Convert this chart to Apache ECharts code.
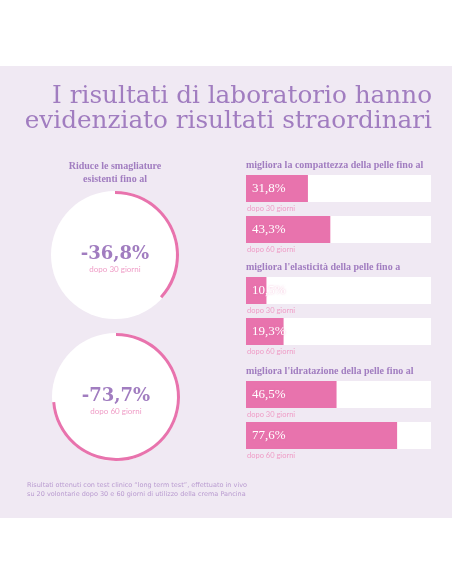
<!DOCTYPE html>
<html><head><meta charset="utf-8">
<script src="https://cdn.jsdelivr.net/npm/echarts@6/dist/echarts.min.js"></script>
<style>html,body{margin:0;padding:0;background:#fff}#c{width:452px;height:584px}</style>
</head><body><div id="c"></div>
<script>
const titleLines = ['I risultati di laboratorio hanno', 'evidenziato risultati straordinari'];
const circleHeader = ['Riduce le smagliature', 'esistenti fino al'];
const circleValues = [36.8, 73.7];
const circlePeriods = ['dopo 30 giorni', 'dopo 60 giorni'];
const sectionTitles = [
  'migliora la compattezza della pelle fino al',
  "migliora l'elasticità della pelle fino a",
  "migliora l'idratazione della pelle fino al"
];
const barValues = [[31.8, 43.3], [10.5, 19.3], [46.5, 77.6]];
const barPeriods = ['dopo 30 giorni', 'dopo 60 giorni'];
const footerLines = [
  'Risultati ottenuti con test clinico “long term test”, effettuato in vivo',
  'su 20 volontarie dopo 30 e 60 giorni di utilizzo della crema Pancina'
];

const PURPLE = '#a17dc0', PINK = '#e873ad', BAND = '#f0e9f3';
const SERIF = '"Liberation Serif", serif', SANS = 'Lato, "Noto Sans", sans-serif';
const WIDE_SERIF = '"DejaVu Serif", serif';
const fmt = v => (v.toFixed(1).replace('.', ',')) + '%';

const chart = echarts.init(document.getElementById('c'), null, {renderer: 'canvas'});

const graphic = [
  {type: 'rect', shape: {x: 0, y: 66, width: 452, height: 452}, style: {fill: BAND}, z: -10},
];
titleLines.forEach((t, i) => graphic.push({type: 'text', x: 432, y: 97 + i * 25,
  style: {text: t, fill: PURPLE, font: '24.7px ' + WIDE_SERIF, textAlign: 'right', textVerticalAlign: 'middle'}}));
circleHeader.forEach((t, i) => graphic.push({type: 'text', x: 115, y: 166 + i * 13,
  style: {text: t, fill: PURPLE, font: '600 10px ' + SERIF, textAlign: 'center', textVerticalAlign: 'middle'}}));

const circleCenters = [[115, 255], [116, 397]];
const R = 64;
const series = [];
circleValues.forEach((v, i) => {
  const c = circleCenters[i];
  series.push({type: 'pie', center: c, radius: [0, R], silent: true, label: {show: false},
    data: [{value: 1, itemStyle: {color: '#fff'}}], z: 1});
  series.push({type: 'pie', center: c, radius: [R - 3, R], silent: true, label: {show: false},
    startAngle: 90, clockwise: true, z: 2,
    data: [{value: v, itemStyle: {color: PINK}}, {value: 100 - v, itemStyle: {color: 'rgba(0,0,0,0)'}}]});
  graphic.push({type: 'text', x: c[0], y: c[1] - 1, z: 10,
    style: {text: '-' + fmt(v), fill: PURPLE, font: 'bold 18px ' + WIDE_SERIF, textAlign: 'center', textVerticalAlign: 'middle'}});
  graphic.push({type: 'text', x: c[0], y: c[1] + 14, z: 10,
    style: {text: circlePeriods[i], fill: '#ef9cc6', font: '8px ' + SANS, textAlign: 'center', textVerticalAlign: 'middle'}});
});

const sectionTops = [175, 277, 381];
const grids = [], xAxes = [], yAxes = [];
sectionTops.forEach((top, s) => {
  graphic.push({type: 'text', x: 246, y: top - 10,
    style: {text: sectionTitles[s], fill: PURPLE, font: '600 10px ' + SERIF, textAlign: 'left', textVerticalAlign: 'middle'}});
  barValues[s].forEach((v, j) => {
    const gt = top + j * 41;
    const gi = grids.length;
    grids.push({left: 246, top: gt, width: 185, height: 27});
    xAxes.push({gridIndex: gi, type: 'value', min: 0, max: 95, show: false});
    yAxes.push({gridIndex: gi, type: 'category', data: [''], show: false});
    series.push({type: 'bar', xAxisIndex: gi, yAxisIndex: gi, barWidth: '100%', data: [v],
      itemStyle: {color: PINK}, showBackground: true, backgroundStyle: {color: '#fff'},
      label: {show: true, position: 'insideLeft', distance: 6, formatter: p => fmt(p.value),
        overflow: 'none', color: '#fff', fontFamily: SERIF, fontSize: 13,
        textShadowColor: 'rgba(232,115,173,0.55)', textShadowBlur: 2}, silent: true});
    graphic.push({type: 'text', x: 247, y: gt + 34,
      style: {text: barPeriods[j], fill: '#ef9cc6', font: '7.5px ' + SANS, textAlign: 'left', textVerticalAlign: 'middle'}});
  });
});

footerLines.forEach((t, i) => graphic.push({type: 'text', x: 27, y: 485 + i * 9,
  style: {text: t, fill: '#b99bd0', font: '6.5px "DejaVu Sans", sans-serif', textAlign: 'left', textVerticalAlign: 'middle'}}));

chart.setOption({
  backgroundColor: '#fff',
  animation: false,
  grid: grids, xAxis: xAxes, yAxis: yAxes,
  series: series,
  graphic: graphic
});
</script></body></html>
